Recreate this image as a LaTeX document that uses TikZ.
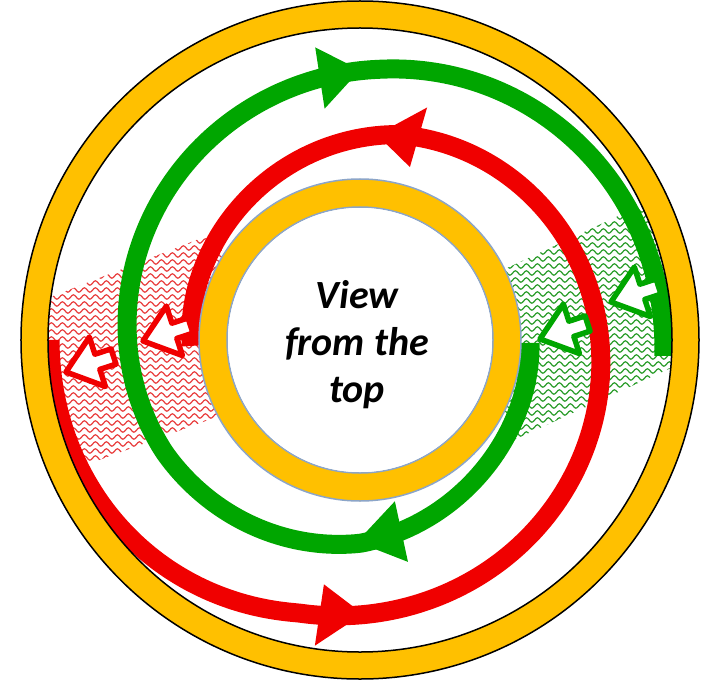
\documentclass[tikz,border=0pt]{standalone}
\usepackage{fontspec}
\setmainfont{Carlito}
\usetikzlibrary{decorations.pathmorphing}
\definecolor{ringyellow}{RGB}{255,192,0}
\definecolor{spgreen}{RGB}{0,166,0}
\definecolor{spred}{RGB}{240,0,0}
\definecolor{ringblue}{RGB}{140,165,200}
\definecolor{hatchred}{RGB}{232,60,60}
\definecolor{hatchgreen}{RGB}{40,155,40}
\tikzset{
  wavyline/.style={decorate, decoration={snake, segment length=11pt, amplitude=2.2pt}, line width=1.2pt},
  spiralline/.style={line width=19pt, line cap=butt},
  hollowarr/.style={line width=5.5pt, fill=white, line join=round},
  toptext/.style={font=\bfseries\itshape\fontsize{40}{47}\selectfont, inner sep=0pt, anchor=base},
  hollowarrow/.pic={\path[pic actions] (0,0) -- (-33,26) -- (-33,8) -- (-50,8) -- (-50,-8) -- (-33,-8) -- (-33,-26) -- cycle;}
}
\begin{document}
\begin{tikzpicture}[x=1pt,y=1pt]
\useasboundingbox (-360,-340) rectangle (348,340);
% hatched bands
\begin{scope}
  \clip (0,0) circle (313pt);
  \clip (-340,31) -- (-138,110) -- (-138,-75) -- (-340,-149) -- cycle;
  \foreach \yy in {-160,-153,...,120} \draw[wavyline, hatchred] (-345,\yy) -- (-110,\yy);
\end{scope}
\begin{scope}
  \clip (0,0) circle (313pt);
  \clip (145,71) -- (335,160) -- (335,-17) -- (145,-104) -- cycle;
  \foreach \yy in {-115,-108,...,170} \draw[wavyline, hatchgreen] (130,\yy) -- (345,\yy);
\end{scope}
% green spiral (clockwise)
\draw[spiralline, spgreen] plot[domain=1:363, samples=160, smooth]
  ({-\x}:{170+0.37*\x-8*(\x<90)*sin(\x*2)+6*(\x>274)*sin((\x-274)/89*180)-6*(\x>150)*(\x<274)*sin((\x-150)/124*180)});
\fill[spgreen] (90:270) -- (98.7:296) -- (98.7:234) -- cycle;
\fill[spgreen] (-90.9:202) -- (-77.8:227) -- (-77.8:165) -- cycle;
% red spiral (counterclockwise)
\draw[spiralline, spred] plot[domain=180:542, samples=160, smooth]
  (\x:{310-0.39*(\x-180)+9*(\x<257)*sin((\x-180)/77*180)-9*(\x>440)*sin((\x-440)/102*180)});
\fill[spred] (85.3:206) -- (73.9:242) -- (73.9:180) -- cycle;
\fill[spred] (270.6:274) -- (261.6:309) -- (261.6:247) -- cycle;
% rings
\filldraw[fill=ringyellow, draw=black, line width=1.5pt, even odd rule]
  (0,0) circle (339pt) (0,0) circle (312pt);
\filldraw[fill=ringyellow, draw=ringblue, line width=1.5pt, even odd rule]
  (0,0) circle (161pt) (0,0) circle (133pt);
\fill[white] (0,0) circle (132pt);
% hollow arrows
\pic[draw=spred, hollowarr, rotate=198] at (-294,-32) {hollowarrow};
\pic[draw=spred, hollowarr, rotate=198] at (-217,-1) {hollowarrow};
\pic[draw=spgreen, hollowarr, rotate=198] at (180,1) {hollowarrow};
\pic[draw=spgreen, hollowarr, rotate=198] at (251,38) {hollowarrow};
% text
\node[toptext] (v1) at (-3,32) {View};
\node[toptext] (v2) at (-3,-15) {from the};
\node[toptext] (v3) at (-3,-62) {top};
\end{tikzpicture}
\end{document}
